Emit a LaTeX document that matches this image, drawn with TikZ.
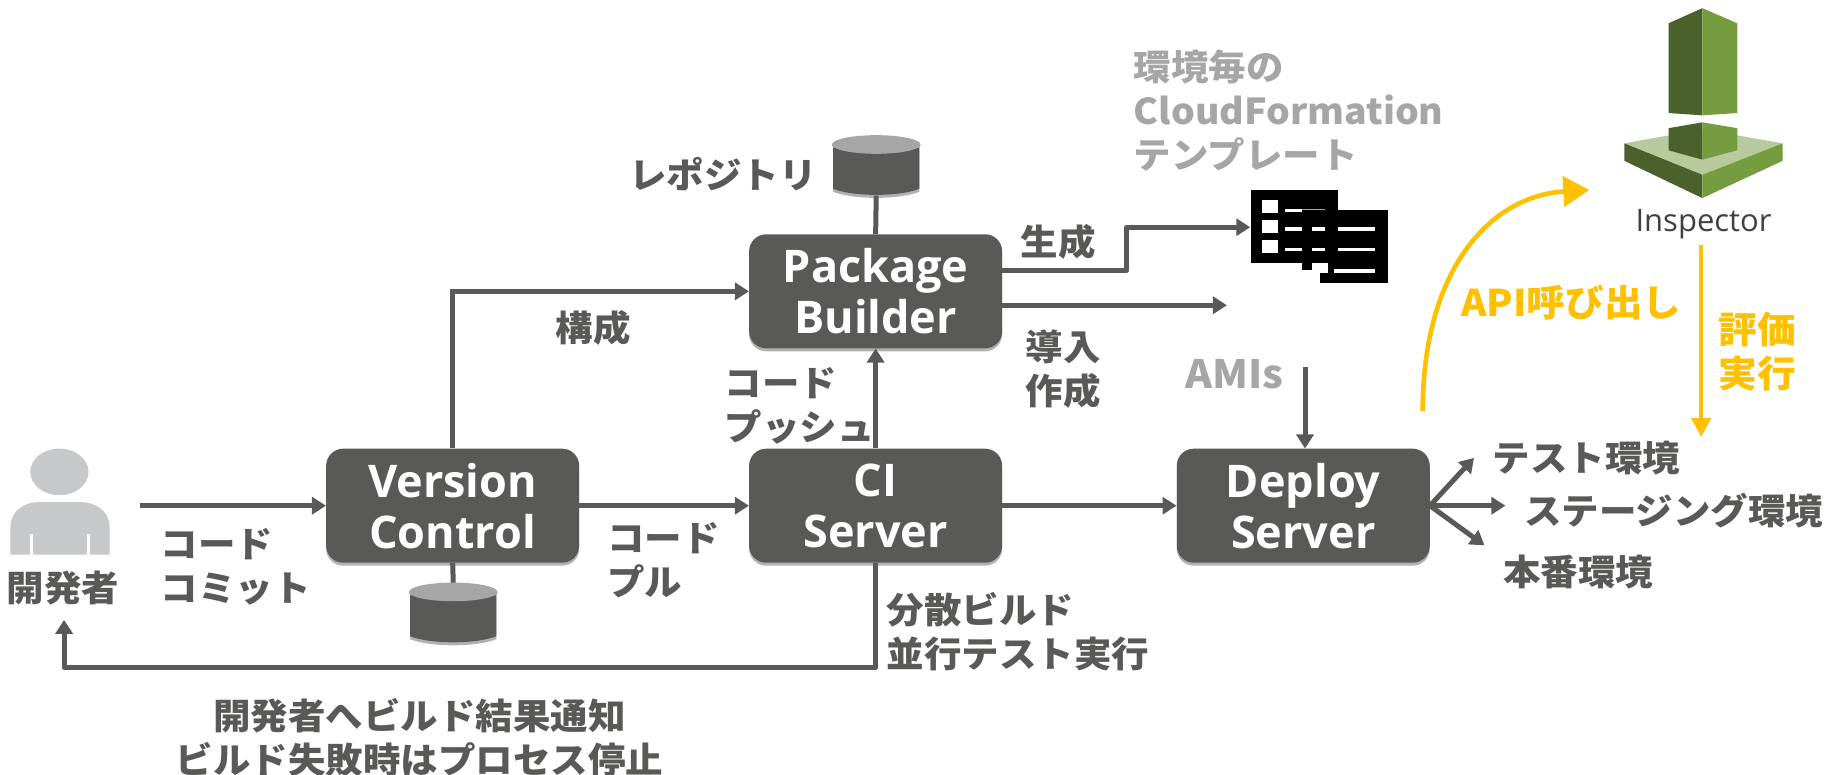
\documentclass[tikz,border=0pt]{standalone}
\usepackage{fontspec}
\setmainfont{Noto Sans CJK JP}[FakeStretch=1.05]
\newfontfamily\boxfont{Open Sans}
\usetikzlibrary{arrows.meta,shadows}
\definecolor{dk}{HTML}{595958}
\definecolor{gr}{HTML}{A6A6A6}
\definecolor{yl}{HTML}{FFC000}
\definecolor{grn}{HTML}{759C3E}
\definecolor{dgrn}{HTML}{4B612C}
\definecolor{lgrn}{HTML}{B7CA9D}
\definecolor{pers}{HTML}{C7C8CA}
\tikzset{
  server/.style={fill=dk,rounded corners=17pt,minimum width=253pt,minimum height=114pt,inner sep=0pt,
    text=white,align=center,font=\boxfont\bfseries\fontsize{45}{51}\selectfont,
    drop shadow={shadow xshift=0pt,shadow yshift=-3pt,opacity=.3,fill=black}},
  lbl/.style={inner sep=0pt,text=dk,align=left,font=\bfseries\fontsize{35.7}{44}\selectfont},
  glbl/.style={lbl,text=gr},
  ylbl/.style={lbl,text=yl,font=\bfseries\fontsize{36.8}{44}\selectfont},
  conn/.style={draw=dk,line width=5pt},
  arr/.style={conn,-{Triangle[length=14pt,width=17pt]}},
  yarr/.style={draw=yl,line width=4.6pt,-{Triangle[length=26pt,width=30pt]}},
  yarrs/.style={draw=yl,line width=4.6pt,-{Triangle[length=19pt,width=19pt]}},
  dbspot/.style={inner sep=0pt,minimum width=88pt,minimum height=60pt},
  pics/dbicon/.style={code={
    \fill[dk,drop shadow={shadow xshift=0pt,shadow yshift=-3pt,opacity=.3,fill=black}]
      (-37,-17) -- (-37,20) .. controls (-20,27) and (20,27) .. (37,20) -- (37,-17) -- cycle;
    \fill[gr] (0,-18) ellipse [x radius=38,y radius=8];
    \fill[gr] (-38,-18) -- (38,-18) -- (37,-15) -- (-37,-15) -- cycle;
  }}
}
\begin{document}
\begin{tikzpicture}[x=1.16518pt,y=-1.16518pt]
\useasboundingbox (0,0) rectangle (1568,665);
% free ends
\coordinate (devout) at (120,434);
\coordinate (devin) at (55,532);
\coordinate (corner) at (55,573);
\coordinate (docin) at (1073,195);
\coordinate (bend1) at (967,232);
\coordinate (bend2) at (967,195);
\coordinate (deployend) at (1053,262);
\coordinate (amistart) at (1120,315);
\coordinate (fan1) at (1265,393);
\coordinate (fan2) at (1292,434);
\coordinate (fan3) at (1274,468);
\coordinate (curvestart) at (1221,353);
\coordinate (curveend) at (1364,163);
\coordinate (evalstart) at (1460,210);
\coordinate (evalend) at (1460,375);
% cylinders
\pic at (752,142) {dbicon};
\pic at (389,526) {dbicon};
\node[dbspot] (repo) at (752,142) {};
\node[dbspot] (vcdb) at (389,526) {};
% servers
\node[server] (vc) at (388.5,434) {Version\\Control};
\node[server] (ci) at (751.5,434) {CI\\Server};
\node[server] (deploy) at (1118.5,434) {Deploy\\Server};
\node[server] (pb) at (751.5,250) {Package\\Builder};
% connectors
\draw[arr] (devout) -- (vc.west);
\draw[arr] (vc.east) -- (ci.west);
\draw[arr] (ci.east) -- (deploy.west);
\draw[arr] (vc.north) |- (pb.west);
\draw[arr] (ci.north) -- (pb.south);
\draw[conn] (repo.south) -- (pb.north);
\draw[conn] (vc.south) -- (vcdb.north);
\draw[arr,line join=round] (pb.east |- bend1) -- (bend1) -- (bend2) -- (docin);
\draw[arr] (pb.east |- deployend) -- (deployend);
\draw[arr] (amistart) -- (deploy.north -| amistart);
\draw[arr] (deploy.east) -- (fan1);
\draw[arr] (deploy.east) -- (fan2);
\draw[arr] (deploy.east) -- (fan3);
\draw[arr,line join=round] (ci.south) -- (ci.south |- corner) -- (corner) -- (devin);
\draw[yarr] (curvestart) .. controls (1221,230) and (1280,168) .. (curveend);
\draw[yarrs] (evalstart) -- (evalend);
% person
\fill[pers] (51,405) ellipse [x radius=25,y radius=20];
\fill[pers] (9,476) -- (9,452) .. controls (9,438) and (22,431) .. (32,431) -- (70,431) .. controls (81,431) and (94,438) .. (94,452) -- (94,476) -- cycle;
\fill[white] (26,458) rectangle (28.5,476);
\fill[white] (75,458) rectangle (77.5,476);
\node[lbl] (devlabel) at (54,505) {開発者};
% document icon
\fill[black] (1074,163) rectangle (1148,226);
\fill[black] (1117,180) rectangle (1191,243);
\fill[black] (1117,226) rectangle (1126,232);
\fill[white] (1126,226) rectangle (1140,234);
\fill[white] (1117,232) rectangle (1133,243);
\fill[black] (1133,234) rectangle (1191,243);
\foreach \yy in {172,189,206}{\fill[white] (1083,\yy) rectangle (1097,\yy+11);}
\foreach \yy in {196.5,214}{
  \fill[white] (1103,\yy-1.5) rectangle (1117,\yy+1.5);
  \fill[white] (1126,\yy-1.5) rectangle (1137,\yy+1.5);
  \fill[white] (1148,\yy-1.5) rectangle (1180,\yy+1.5);
}
\fill[white] (1103,179) rectangle (1117,182);
\fill[gr] (1117,179) rectangle (1137,179.7);
\fill[white] (1145,231) rectangle (1180,234);
% inspector icon
\fill[dgrn] (1461,7) -- (1432,20) -- (1432,97) -- (1461,99) -- cycle;
\fill[grn] (1461,7) -- (1491,20) -- (1491,97) -- (1461,99) -- cycle;
\fill[lgrn] (1394,123) -- (1461,111) -- (1530,123) -- (1461,150) -- cycle;
\fill[dgrn] (1394,123) -- (1461,150) -- (1461,170) -- (1394,138) -- cycle;
\fill[grn] (1530,123) -- (1461,150) -- (1461,170) -- (1530,138) -- cycle;
\fill[dgrn] (1432,110) -- (1461,105) -- (1461,137) -- (1432,129) -- cycle;
\fill[grn] (1491,110) -- (1461,105) -- (1461,137) -- (1491,129) -- cycle;
\node[inner sep=0pt,text=black!75!white,font=\boxfont\fontsize{31}{34}\selectfont] (insp) at (1462,192) {Inspector};
% labels
\node[glbl,anchor=west] (cfn) at (973,95) {環境毎の\\CloudFormation\\テンプレート};
\node[glbl,anchor=west,font=\bfseries\fontsize{39}{44}\selectfont] (amis) at (1017,321) {AMIs};
\node[lbl,anchor=west] (repol) at (540,149) {レポジトリ};
\node[lbl,anchor=west] (gen) at (876,208) {生成};
\node[lbl,anchor=west] (conf) at (477,281) {構成};
\node[lbl,anchor=west] (intro) at (880,316.5) {導入\\作成};
\node[lbl,anchor=west] (push) at (622,348.5) {コード\\プッシュ};
\node[lbl,anchor=west] (pull) at (521,481) {コード\\プル};
\node[lbl,anchor=west] (commit) at (138,486.5) {コード\\コミット};
\node[lbl,anchor=west] (dist) at (761,542) {分散ビルド\\並行テスト実行};
\node[lbl,align=center] (notify) at (360,633) {開発者へビルド結果通知\\ビルド失敗時はプロセス停止};
\node[lbl,anchor=west] (test) at (1281,393) {テスト環境};
\node[lbl,anchor=west] (stg) at (1308,438) {ステージング環境};
\node[lbl,anchor=west] (prod) at (1290,491) {本番環境};
\node[ylbl,anchor=west] (api) at (1254,260) {API呼び出し};
\node[ylbl,align=center] (evalx) at (1508,301.5) {評価\\実行};
\end{tikzpicture}
\end{document}
